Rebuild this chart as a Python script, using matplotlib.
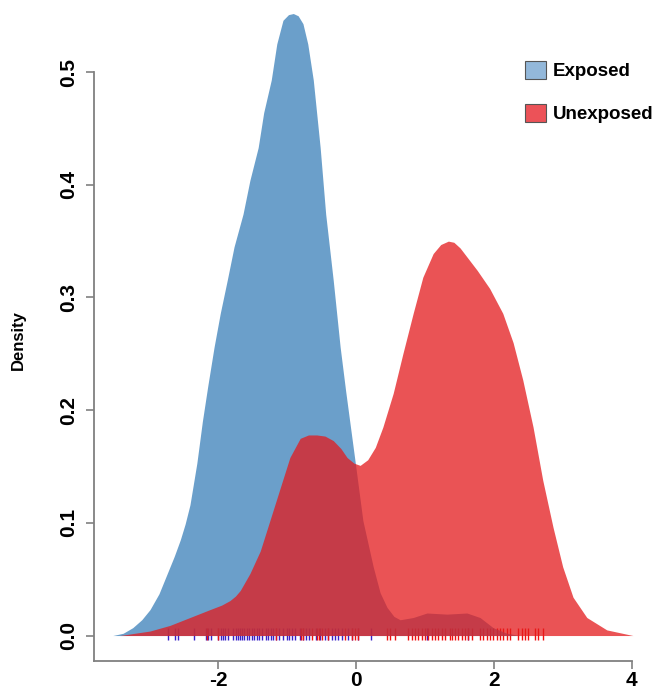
import matplotlib
matplotlib.use("Agg")
import matplotlib.pyplot as plt
from matplotlib.patches import Patch

plt.rcParams['font.family'] = ['Liberation Sans', 'DejaVu Sans']
plt.rcParams['font.weight'] = 'bold'

# density curve of the exposed group
exp_x = [-3.53, -3.38, -3.24, -3.11, -2.99, -2.86, -2.74, -2.64, -2.55, -2.48, -2.41, -2.31, -2.23, -2.15, -2.06,
         -1.97, -1.87, -1.77, -1.64, -1.54, -1.42, -1.34, -1.23, -1.15, -1.06, -0.98,
         -0.91, -0.84, -0.77, -0.70, -0.62, -0.52, -0.44, -0.33, -0.23, -0.15, -0.01,
         0.10, 0.25, 0.35, 0.45, 0.55, 0.64, 0.83, 1.03, 1.32, 1.61, 1.80, 1.99, 2.19, 2.38]
exp_y = [0.0, 0.002, 0.007, 0.014, 0.023, 0.037, 0.055, 0.070, 0.085, 0.099, 0.116, 0.153, 0.190, 0.222, 0.256,
         0.286, 0.315, 0.345, 0.374, 0.404, 0.433, 0.464, 0.493, 0.525, 0.546, 0.551,
         0.552, 0.550, 0.543, 0.525, 0.493, 0.433, 0.374, 0.315, 0.256, 0.217, 0.153,
         0.102, 0.061, 0.038, 0.025, 0.017, 0.014, 0.016, 0.020, 0.019, 0.020, 0.016, 0.007, 0.002, 0.0]

# density curve of the unexposed group
unexp_x = [-3.43, -2.99, -2.70, -2.41, -2.12, -1.95, -1.83, -1.75, -1.68, -1.54, -1.39, -1.25,
           -1.10, -0.96, -0.81, -0.69, -0.57, -0.45, -0.33, -0.22, -0.13, -0.03, 0.06, 0.17, 0.28, 0.39,
           0.54, 0.68, 0.83, 0.97, 1.12, 1.23, 1.34, 1.42, 1.51, 1.76, 1.94, 2.13,
           2.28, 2.42, 2.57, 2.71, 2.86, 3.00, 3.15, 3.35, 3.64, 4.02]
unexp_y = [0.0, 0.004, 0.009, 0.016, 0.023, 0.027, 0.031, 0.035, 0.040, 0.055, 0.075, 0.102,
           0.131, 0.158, 0.175, 0.178, 0.178, 0.177, 0.173, 0.166, 0.158, 0.153, 0.151, 0.156, 0.167, 0.185,
           0.215, 0.250, 0.286, 0.318, 0.339, 0.347, 0.350, 0.349, 0.344, 0.324, 0.308, 0.286,
           0.260, 0.227, 0.185, 0.138, 0.096, 0.061, 0.034, 0.016, 0.005, 0.0]

# rug of observations
exp_obs = [-2.73, -2.63, -2.58, -2.35, -2.18, -2.15, -2.10, -2.00, -1.96, -1.93,
           -1.90, -1.86, -1.79, -1.74, -1.71, -1.68, -1.65, -1.63, -1.58, -1.55,
           -1.51, -1.48, -1.44, -1.41, -1.36, -1.31, -1.28, -1.23, -1.20, -1.16,
           -1.12, -1.06, -1.00, -0.97, -0.93, -0.89, -0.81, -0.77, -0.73, -0.68,
           -0.58, -0.52, -0.45, -0.41, -0.35, -0.30, -0.26, -0.20, -0.12, -0.06,
           0.03, 0.22, 1.03, 1.63]
unexp_obs = [-2.16, -2.00, -1.16, -0.80, -0.77, -0.64, -0.57, -0.54, -0.49, -0.41,
             -0.16, -0.06, -0.01, 0.03, 0.45, 0.49, 0.57, 0.75, 0.81, 0.86,
             0.90, 0.96, 1.00, 1.04, 1.10, 1.15, 1.19, 1.25, 1.29, 1.36,
             1.39, 1.44, 1.48, 1.54, 1.58, 1.63, 1.68, 1.80, 1.84, 1.90,
             1.94, 1.99, 2.05, 2.09, 2.13, 2.19, 2.24, 2.35, 2.41, 2.45,
             2.50, 2.60, 2.64, 2.71]

labels = ['Exposed', 'Unexposed']

W, H = 657, 692
fig = plt.figure(figsize=(W / 100, H / 100), dpi=100)
ax = fig.add_axes([94.4 / W, 31 / H, (W - 94.4) / W, 661 / H])

blue = '#377EB8'
red = '#E41A1C'

ax.plot(exp_obs, [0.0018] * len(exp_obs), '|', color='#3A22C8', ms=8, mew=1.0, zorder=1)
ax.plot(unexp_obs, [0.0018] * len(unexp_obs), '|', color='#F01010', ms=8, mew=1.0, zorder=1)

ax.fill_between(exp_x, exp_y, 0, color=blue, alpha=0.74, lw=0, zorder=2)
ax.fill_between(unexp_x, unexp_y, 0, color=red, alpha=0.75, lw=0, zorder=3)

ax.set_xlim(-3.797, 4.369)
ax.set_ylim(-0.0226, 0.564)

ax.set_xticks([-2, 0, 2, 4])
ax.set_xticklabels(['-2', '0', '2', '4'])
ax.set_yticks([0.0, 0.1, 0.2, 0.3, 0.4, 0.5])
ax.set_yticklabels(['0.0', '0.1', '0.2', '0.3', '0.4', '0.5'], rotation=90, va='center')

for s in ['top', 'right']:
    ax.spines[s].set_visible(False)
for s in ['left', 'bottom']:
    ax.spines[s].set_color('#808080')
    ax.spines[s].set_linewidth(1.3)
ax.spines['left'].set_bounds(-0.0226, 0.5)
ax.spines['bottom'].set_bounds(-3.797, 4)
ax.tick_params(colors='#808080', length=6, width=1.2, labelsize=15)
ax.tick_params(axis='x', pad=1)
ax.tick_params(axis='y', pad=6)
for t in ax.get_xticklabels() + ax.get_yticklabels():
    t.set_color('black')
    t.set_fontweight('bold')

ax.set_ylabel('Density', fontsize=12, fontweight='bold')
ax.yaxis.set_label_coords(-0.122, 0.486)

handles = [Patch(facecolor='#93B8DA', edgecolor='#555555', lw=0.8),
           Patch(facecolor='#EC5258', edgecolor='#555555', lw=0.8)]
leg = ax.legend(handles, labels, loc='upper left', bbox_to_anchor=(508 / W, 1 - 44 / H),
                bbox_transform=fig.transFigure, frameon=False, fontsize=13.5,
                handlelength=1.1, handleheight=1.1, labelspacing=1.25, handletextpad=0.4)
for t in leg.get_texts():
    t.set_fontweight('bold')

fig.savefig('out.png', dpi=100)
